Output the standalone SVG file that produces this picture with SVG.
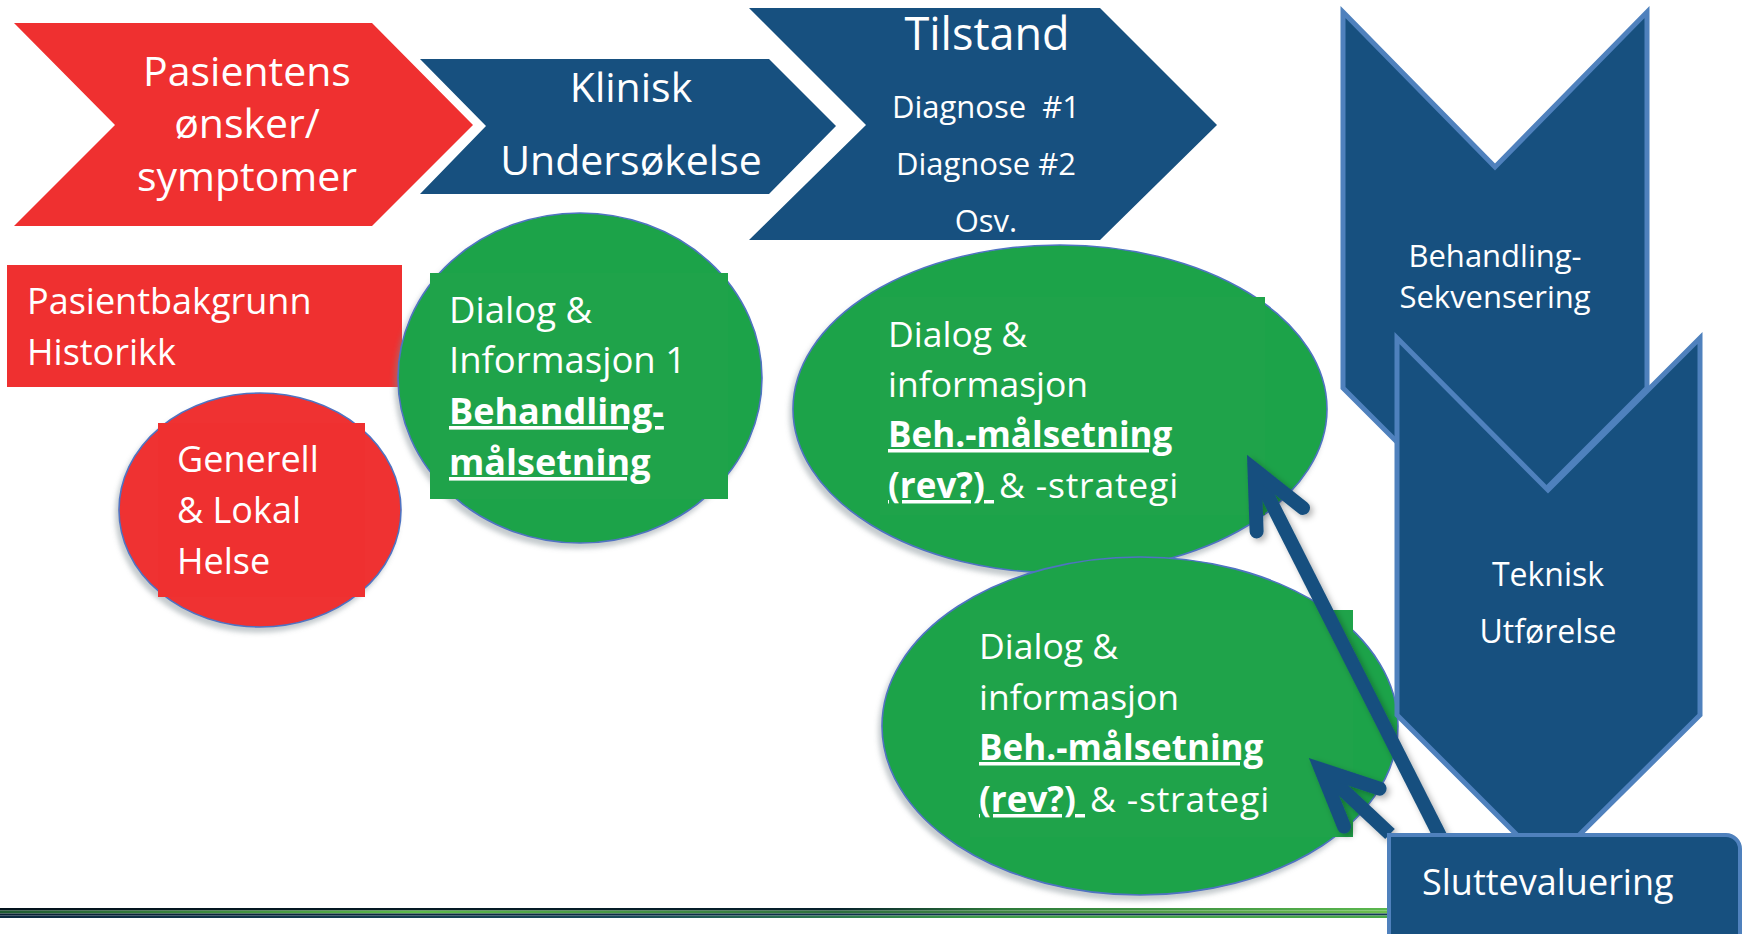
<svg xmlns="http://www.w3.org/2000/svg" width="1742" height="934" viewBox="0 0 1742 934">
<defs>
<style>
.red{fill:#ef3030}
.blue{fill:#17507f}
.green{fill:#1fa34a}
.bs{stroke:#4f81bd;stroke-width:5;stroke-linejoin:miter}
.eo{stroke:#4f73c2;stroke-width:1.6}
.t{font-family:"Open Sans","Noto Sans","Liberation Sans",sans-serif;fill:#ffffff;white-space:pre}
.m{text-anchor:middle}
.b{font-weight:700}
.u{text-decoration:underline}
.ls{letter-spacing:0.8px}
</style>
<filter id="esh" x="-10%" y="-10%" width="120%" height="125%">
<feDropShadow dx="-3" dy="5" stdDeviation="2.5" flood-color="#7a8a90" flood-opacity="0.45"/>
</filter>
<filter id="ash" x="-20%" y="-20%" width="140%" height="140%">
<feDropShadow dx="3" dy="3" stdDeviation="3" flood-color="#000" flood-opacity="0.3"/>
</filter>
<marker id="ah" markerUnits="userSpaceOnUse" orient="auto" refX="0" refY="0" markerWidth="200" markerHeight="200" viewBox="-100 -100 200 200" overflow="visible">
<path d="M-56,-26 L0,0 L-56,26" fill="none" stroke="#17507f" stroke-width="14" stroke-linecap="round" stroke-linejoin="miter"/>
</marker>
<linearGradient id="g1" x1="0" x2="1" y1="0" y2="0">
<stop offset="0" stop-color="#03121c"/><stop offset="0.6" stop-color="#06202c"/><stop offset="0.72" stop-color="#2d7a3a"/><stop offset="1" stop-color="#5bb84e"/>
</linearGradient>
<linearGradient id="g2" x1="0" x2="1" y1="0" y2="0">
<stop offset="0" stop-color="#1e5a32"/><stop offset="0.3" stop-color="#5cba4a"/><stop offset="0.6" stop-color="#2e6e3e"/><stop offset="1" stop-color="#6cc04f"/>
</linearGradient>
<linearGradient id="g3" x1="0" x2="1" y1="0" y2="0">
<stop offset="0" stop-color="#0b2236"/><stop offset="1" stop-color="#15395a"/>
</linearGradient>
<linearGradient id="g4" x1="0" x2="1" y1="0" y2="0">
<stop offset="0" stop-color="#0c2a40"/><stop offset="0.45" stop-color="#1a4a5a"/><stop offset="0.7" stop-color="#3c9a48"/><stop offset="1" stop-color="#4aa84a"/>
</linearGradient>
</defs>
<rect width="1742" height="934" fill="#ffffff"/>

<g id="bottom-line">
<rect x="0" y="908" width="1392" height="2.5" fill="url(#g1)"/>
<rect x="0" y="910.5" width="1392" height="3" fill="url(#g2)"/>
<rect x="0" y="913.5" width="1392" height="2" fill="url(#g3)"/>
<rect x="0" y="915.5" width="1392" height="2.5" fill="url(#g4)"/>
</g>

<g id="pasientens">
<polygon class="red" points="14,23 372,23 473,125 372,226 14,226 115,125"/>
<text class="t m" x="247" y="86" font-size="41">Pasientens</text>
<text class="t m" x="247" y="138" font-size="41">ønsker/</text>
<text class="t m" x="247" y="191" font-size="41">symptomer</text>
</g>

<g id="klinisk">
<polygon class="blue" points="420,59 769,59 836,126 769,194 420,194 486,126"/>
<text class="t m" x="631" y="102" font-size="41">Klinisk</text>
<text class="t m" x="631" y="175" font-size="41">Undersøkelse</text>
</g>

<g id="tilstand">
<polygon class="blue" points="749,8 1100,8 1217,125 1100,240 749,240 866,125"/>
<text class="t m" x="987" y="50" font-size="45">Tilstand</text>
<text class="t m" x="986" y="118" font-size="31">Diagnose  #1</text>
<text class="t m" x="986" y="175" font-size="31">Diagnose #2</text>
<text class="t m" x="986" y="232" font-size="31">Osv.</text>
</g>

<g id="pasientbakgrunn">
<rect class="red" x="7" y="265" width="395" height="122"/>
<text class="t" x="27" y="314" font-size="36">Pasientbakgrunn</text>
<text class="t" x="27" y="365" font-size="36">Historikk</text>
</g>

<g id="generell">
<ellipse class="red eo" cx="260" cy="510" rx="141" ry="117" filter="url(#esh)"/>
<rect class="red" x="158" y="423" width="207" height="174"/>
<text class="t" x="177" y="472" font-size="36">Generell</text>
<text class="t" x="177" y="523" font-size="36">&amp; Lokal</text>
<text class="t" x="177" y="574" font-size="36">Helse</text>
</g>

<g id="dialog1">
<ellipse class="green eo" cx="580" cy="378" rx="182" ry="165" filter="url(#esh)"/>
<rect class="green" x="430" y="273" width="298" height="226"/>
<text class="t" x="449" y="323" font-size="36.5">Dialog &amp;</text>
<text class="t" x="449" y="373" font-size="36.5">Informasjon 1</text>
<text class="t b u" x="449" y="424" font-size="36">Behandling-</text>
<text class="t b u" x="449" y="475" font-size="36">målsetning</text>
</g>

<g id="dialog2">
<ellipse class="green eo" cx="1060" cy="409" rx="267" ry="164" filter="url(#esh)"/>
<rect class="green" x="880" y="297" width="385" height="218"/>
<text class="t" x="888" y="347" font-size="35.5">Dialog &amp;</text>
<text class="t" x="888" y="397" font-size="35.5">informasjon</text>
<text class="t b u" x="888" y="447" font-size="35">Beh.-målsetning</text>
<text class="t" x="888" y="498" font-size="35"><tspan class="b u">(rev?) </tspan><tspan class="ls" dx="5" font-size="35.5">&amp; -strategi</tspan></text>
</g>

<g id="dialog3">
<ellipse class="green eo" cx="1140" cy="726" rx="258" ry="169" filter="url(#esh)"/>
<rect class="green" x="970" y="610" width="383" height="227"/>
<text class="t" x="979" y="659" font-size="35.5">Dialog &amp;</text>
<text class="t" x="979" y="710" font-size="35.5">informasjon</text>
<text class="t b u" x="979" y="760" font-size="35">Beh.-målsetning</text>
<text class="t" x="979" y="812" font-size="35"><tspan class="b u">(rev?) </tspan><tspan class="ls" dx="5" font-size="35.5">&amp; -strategi</tspan></text>
</g>

<g id="behandling-sekvensering">
<polygon class="blue bs" points="1343,12 1495,167 1647,12 1647,388 1495,540 1343,388"/>
<text class="t m" x="1495" y="267" font-size="31">Behandling-</text>
<text class="t m" x="1495" y="308" font-size="31">Sekvensering</text>
</g>

<g id="teknisk">
<polygon class="blue bs" points="1397,338 1548,490 1700,338 1700,715 1548,866 1397,715"/>
<text class="t m" x="1548" y="586" font-size="32">Teknisk</text>
<text class="t m" x="1548" y="643" font-size="32">Utførelse</text>
</g>

<g id="connectors" filter="url(#ash)" fill="none" stroke="#17507f" stroke-width="14">
<line x1="1441" y1="838" x2="1254.5" y2="469.7" marker-end="url(#ah)"/>
<line x1="1390" y1="834" x2="1321" y2="769.3" marker-end="url(#ah)"/>
</g>

<g id="sluttevaluering">
<path class="blue" d="M1389,835 H1726 A14,14 0 0 1 1740,849 V945 H1389 Z" stroke="#4f81bd" stroke-width="4"/>
<text class="t" x="1422" y="895" font-size="36">Sluttevaluering</text>
</g>
</svg>
